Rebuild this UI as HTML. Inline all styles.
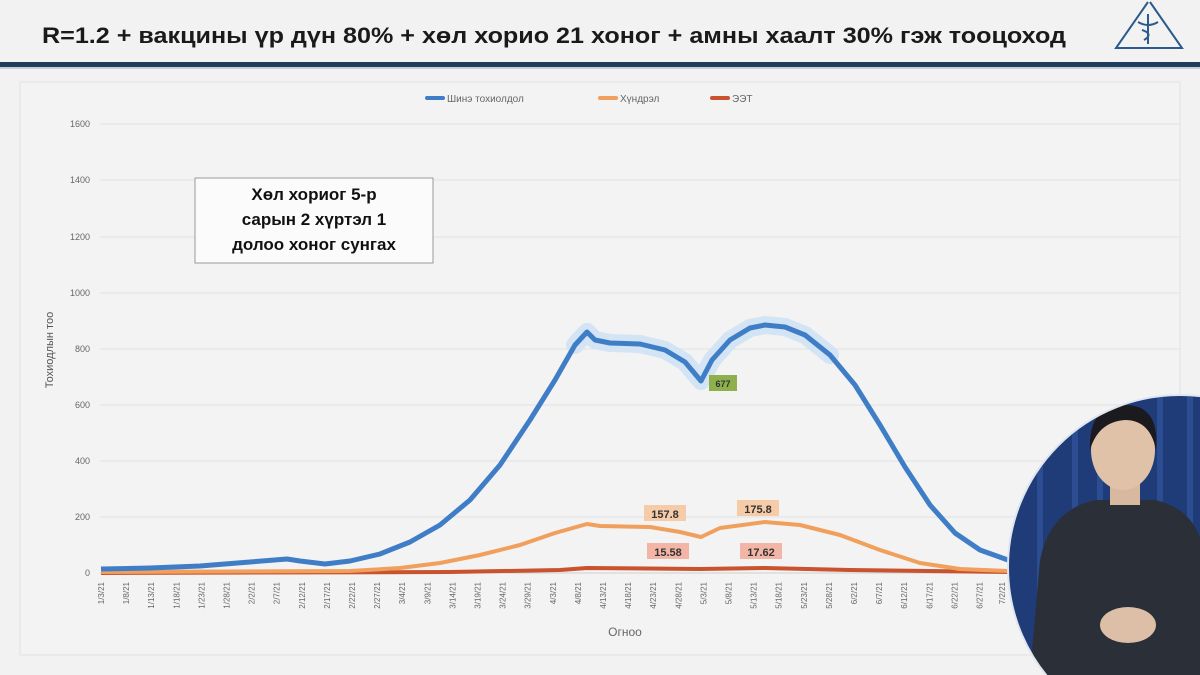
<!DOCTYPE html>
<html><head><meta charset="utf-8"><style>
html,body{margin:0;padding:0;width:1200px;height:675px;overflow:hidden;background:#f2f2f2;font-family:"Liberation Sans","DejaVu Sans",sans-serif}
svg{display:block}
</style></head><body>
<svg width="1200" height="675" viewBox="0 0 1200 675" xmlns="http://www.w3.org/2000/svg" font-family="Liberation Sans, DejaVu Sans, sans-serif">
<rect width="1200" height="675" fill="#f2f2f2"/>
<text x="42" y="43" font-size="22" font-weight="bold" fill="#1a1a1a" textLength="1024" lengthAdjust="spacingAndGlyphs">R=1.2 + вакцины үр дүн 80% + хөл хорио 21 хоног + амны хаалт 30% гэж тооцоход</text>
<g stroke="#2b5a8c" stroke-width="2" fill="none"><path d="M1148 2 L1116 48 L1182 48 L1150 2"/><path d="M1148 14 L1148 44"/><path d="M1138 22 Q1148 28 1158 22"/><path d="M1142 30 Q1154 34 1144 40"/></g>
<rect x="0" y="62" width="1200" height="5" fill="#1f3c5e"/>
<rect x="0" y="67" width="1200" height="2" fill="#c7d0da"/>
<rect x="20" y="82" width="1160" height="573" fill="#f3f3f3" stroke="#e2e2e2"/>
<g font-size="10" fill="#666">
<rect x="425" y="96" width="20" height="4" fill="#3f7ec6" rx="2"/><text x="447" y="102">Шинэ тохиолдол</text>
<rect x="598" y="96" width="20" height="4" fill="#f0a05c" rx="2"/><text x="620" y="102">Хүндрэл</text>
<rect x="710" y="96" width="20" height="4" fill="#c8532e" rx="2"/><text x="732" y="102">ЭЭТ</text>
</g>
<g stroke="#e0e0e0" stroke-width="1">
<line x1="100" y1="124" x2="1180" y2="124"/><line x1="100" y1="180" x2="1180" y2="180"/><line x1="100" y1="237" x2="1180" y2="237"/><line x1="100" y1="293" x2="1180" y2="293"/><line x1="100" y1="349" x2="1180" y2="349"/><line x1="100" y1="405" x2="1180" y2="405"/><line x1="100" y1="461" x2="1180" y2="461"/><line x1="100" y1="517" x2="1180" y2="517"/><line x1="100" y1="573" x2="1180" y2="573" stroke="#cfcfcf"/>
</g>
<g font-size="9" fill="#666" text-anchor="end">
<text x="90" y="127">1600</text><text x="90" y="183">1400</text><text x="90" y="240">1200</text><text x="90" y="296">1000</text><text x="90" y="352">800</text><text x="90" y="408">600</text><text x="90" y="464">400</text><text x="90" y="520">200</text><text x="90" y="576">0</text>
</g>
<text transform="translate(53,350) rotate(-90)" font-size="11" fill="#555" text-anchor="middle">Тохиодлын тоо</text>
<text x="625" y="636" font-size="12" fill="#666" text-anchor="middle">Огноо</text>
<g font-size="8" fill="#666" text-anchor="end">
<text transform="translate(104,582) rotate(-90)">1/3/21</text>
<text transform="translate(129.1,582) rotate(-90)">1/8/21</text>
<text transform="translate(154.2,582) rotate(-90)">1/13/21</text>
<text transform="translate(179.3,582) rotate(-90)">1/18/21</text>
<text transform="translate(204.4,582) rotate(-90)">1/23/21</text>
<text transform="translate(229.5,582) rotate(-90)">1/28/21</text>
<text transform="translate(254.6,582) rotate(-90)">2/2/21</text>
<text transform="translate(279.7,582) rotate(-90)">2/7/21</text>
<text transform="translate(304.8,582) rotate(-90)">2/12/21</text>
<text transform="translate(329.9,582) rotate(-90)">2/17/21</text>
<text transform="translate(355,582) rotate(-90)">2/22/21</text>
<text transform="translate(380.1,582) rotate(-90)">2/27/21</text>
<text transform="translate(405.2,582) rotate(-90)">3/4/21</text>
<text transform="translate(430.3,582) rotate(-90)">3/9/21</text>
<text transform="translate(455.4,582) rotate(-90)">3/14/21</text>
<text transform="translate(480.5,582) rotate(-90)">3/19/21</text>
<text transform="translate(505.6,582) rotate(-90)">3/24/21</text>
<text transform="translate(530.7,582) rotate(-90)">3/29/21</text>
<text transform="translate(555.8,582) rotate(-90)">4/3/21</text>
<text transform="translate(580.9,582) rotate(-90)">4/8/21</text>
<text transform="translate(606,582) rotate(-90)">4/13/21</text>
<text transform="translate(631.1,582) rotate(-90)">4/18/21</text>
<text transform="translate(656.2,582) rotate(-90)">4/23/21</text>
<text transform="translate(681.3,582) rotate(-90)">4/28/21</text>
<text transform="translate(706.4,582) rotate(-90)">5/3/21</text>
<text transform="translate(731.5,582) rotate(-90)">5/8/21</text>
<text transform="translate(756.6,582) rotate(-90)">5/13/21</text>
<text transform="translate(781.7,582) rotate(-90)">5/18/21</text>
<text transform="translate(806.8,582) rotate(-90)">5/23/21</text>
<text transform="translate(831.9,582) rotate(-90)">5/28/21</text>
<text transform="translate(857,582) rotate(-90)">6/2/21</text>
<text transform="translate(882.1,582) rotate(-90)">6/7/21</text>
<text transform="translate(907.2,582) rotate(-90)">6/12/21</text>
<text transform="translate(932.3,582) rotate(-90)">6/17/21</text>
<text transform="translate(957.4,582) rotate(-90)">6/22/21</text>
<text transform="translate(982.5,582) rotate(-90)">6/27/21</text>
<text transform="translate(1005,582) rotate(-90)">7/2/21</text>
</g>
<rect x="195" y="178" width="238" height="85" fill="#fbfbfb" stroke="#999"/>
<g font-size="17" font-weight="bold" fill="#111" text-anchor="middle">
<text x="314" y="200">Хөл хориог 5-р</text><text x="314" y="225">сарын 2 хүртэл 1</text><text x="314" y="250">долоо хоног сунгах</text></g>
<path d="M575,345 L587,332 L595,340 L610,343 L640,344 L665,350 L685,362 L701,381 L712,360 L730,340 L750,328 L765,325 L785,327 L805,335 L830,355" fill="none" stroke="#d3e4f5" stroke-width="18" stroke-linejoin="round" stroke-linecap="round"/>
<polyline points="101,573 450,572 560,570 587,568 700,569 765,568 850,570 1008,572" fill="none" stroke="#c8532e" stroke-width="4" stroke-linejoin="round"/>
<polyline points="101,572 350,571 400,568 440,563 480,555 520,545 555,533 587,524 600,526 650,527 680,532 701,537 720,528 765,522 800,525 840,535 880,550 920,563 960,569 1008,571" fill="none" stroke="#f0a05c" stroke-width="4" stroke-linejoin="round"/>
<polyline points="101,569 150,568 200,566 250,562 287,559 300,561 325,564 350,561 380,554 410,542 440,525 470,500 500,465 530,420 555,380 575,345 587,332 595,340 610,343 640,344 665,350 685,362 701,381 712,360 730,340 750,328 765,325 785,327 805,335 830,355 855,385 880,425 905,467 930,505 955,533 980,550 1008,560" fill="none" stroke="#3f7ec6" stroke-width="5" stroke-linejoin="round"/>
<g font-size="11" font-weight="bold" fill="#333" text-anchor="middle">
<rect x="709" y="375" width="28" height="16" fill="#8db04c"/><text x="723" y="387" font-size="9">677</text>
<rect x="644" y="505" width="42" height="16" fill="#f5cba8"/><text x="665" y="518">157.8</text>
<rect x="737" y="500" width="42" height="16" fill="#f5cba8"/><text x="758" y="513">175.8</text>
<rect x="647" y="543" width="42" height="16" fill="#f3b5a5"/><text x="668" y="556">15.58</text>
<rect x="740" y="543" width="42" height="16" fill="#f3b5a5"/><text x="761" y="556">17.62</text>
</g>
<defs><clipPath id="c"><circle cx="1180" cy="567" r="172"/></clipPath></defs>
<g clip-path="url(#c)">
<rect x="1000" y="390" width="200" height="285" fill="#1f3b78"/>
<g stroke="#2c4d92" stroke-width="6"><line x1="1040" y1="390" x2="1040" y2="675"/><line x1="1075" y1="390" x2="1075" y2="675"/><line x1="1100" y1="390" x2="1100" y2="675"/><line x1="1160" y1="390" x2="1160" y2="675"/><line x1="1190" y1="390" x2="1190" y2="675"/></g>
<path d="M1030 675 L1040 560 Q1050 510 1095 500 L1155 500 Q1200 510 1205 560 L1210 675 Z" fill="#2b2f38"/>
<rect x="1110" y="480" width="30" height="25" fill="#d8b9a0"/>
<ellipse cx="1123" cy="450" rx="32" ry="40" fill="#e0c2a8"/>
<path d="M1090 450 Q1088 405 1125 405 Q1160 405 1156 450 Q1150 420 1125 420 Q1098 422 1090 450Z" fill="#1b1b1f"/>
<ellipse cx="1128" cy="625" rx="28" ry="18" fill="#dcbfa6"/>
</g>
<circle cx="1180" cy="567" r="172" fill="none" stroke="#dfe6f0" stroke-width="2"/>
</svg>
</body></html>
